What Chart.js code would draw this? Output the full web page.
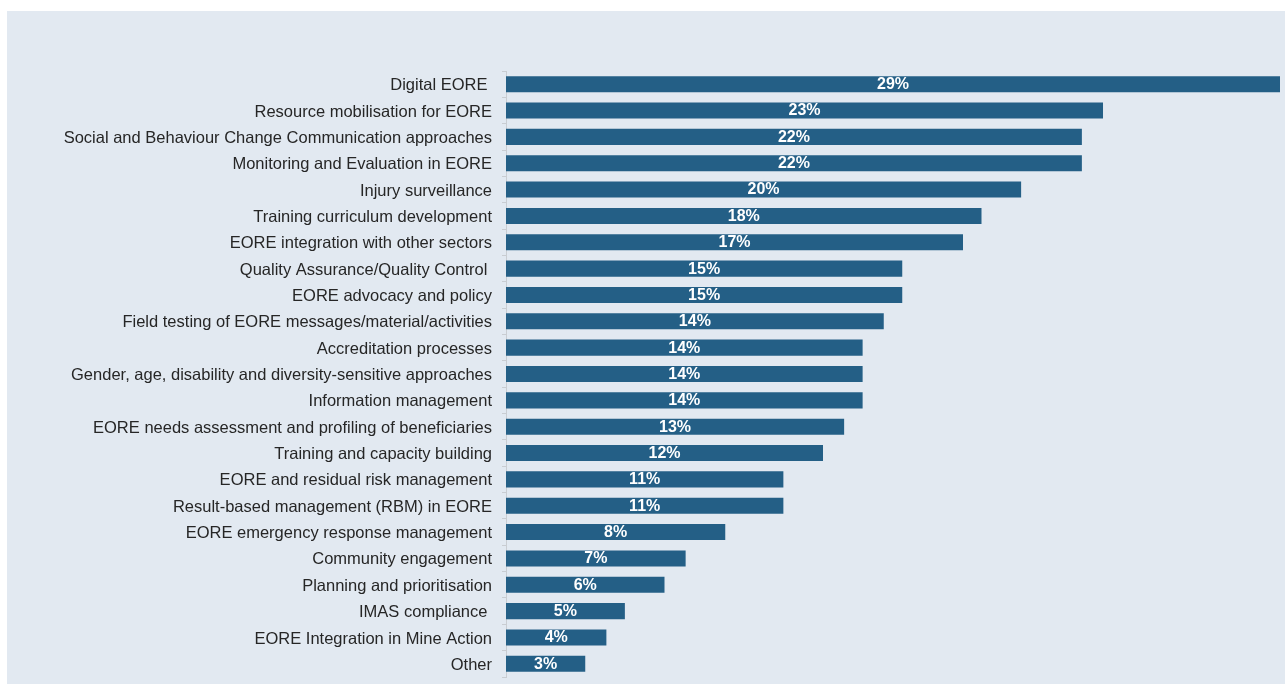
<!DOCTYPE html>
<html>
<head>
<meta charset="utf-8">
<script src="https://cdn.jsdelivr.net/npm/chart.js@4"></script>
<style>
  html, body { margin: 0; padding: 0; background: #ffffff; }
  #panel {
    position: absolute;
    left: 7px;
    top: 11px;
    width: 1278px;
    height: 673px;
    background: #E2E9F1;
  }
  #panel canvas { display: block; }
</style>
</head>
<body>
<div id="panel"><canvas id="chart-topics" width="1278" height="673"></canvas></div>
<script>
const TOPICS = [
  'Digital EORE ',
  'Resource mobilisation for EORE',
  'Social and Behaviour Change Communication approaches',
  'Monitoring and Evaluation in EORE',
  'Injury surveillance',
  'Training curriculum development',
  'EORE integration with other sectors',
  'Quality Assurance/Quality Control ',
  'EORE advocacy and policy',
  'Field testing of EORE messages/material/activities',
  'Accreditation processes',
  'Gender, age, disability and diversity-sensitive approaches',
  'Information management',
  'EORE needs assessment and profiling of beneficiaries',
  'Training and capacity building',
  'EORE and residual risk management',
  'Result-based management (RBM) in EORE',
  'EORE emergency response management',
  'Community engagement',
  'Planning and prioritisation',
  'IMAS compliance ',
  'EORE Integration in Mine Action',
  'Other',
];

// share of respondents, in percent
const SHARES = [
  29.3, 22.6, 21.8, 21.8, 19.5, 18.0, 17.3, 15.0, 15.0, 14.3, 13.5, 13.5,
  13.5, 12.8, 12.0, 10.5, 10.5, 8.3, 6.8, 6.0, 4.5, 3.8, 3.0,
];

const BAR_COLOR = '#245F86';
const AXIS_COLOR = '#C9CDD2';
const LABEL_COLOR = '#262626';
const FONT_FAMILY = '"Liberation Sans", Arial, sans-serif';

// white percentage centred inside every bar
const barValueLabels = {
  id: 'barValueLabels',
  afterDatasetsDraw(chart) {
    const { ctx } = chart;
    const meta = chart.getDatasetMeta(0);
    ctx.save();
    ctx.fillStyle = '#ffffff';
    ctx.font = `bold 16px ${FONT_FAMILY}`;
    ctx.textAlign = 'center';
    ctx.textBaseline = 'middle';
    meta.data.forEach((bar, i) => {
      const v = chart.data.datasets[0].data[i];
      ctx.fillText(`${Math.round(v)}%`, (bar.x + bar.base) / 2, bar.y + 0.5);
    });
    ctx.restore();
  },
};

new Chart(document.getElementById('chart-topics'), {
  type: 'bar',
  data: {
    labels: TOPICS,
    datasets: [{
      data: SHARES,
      backgroundColor: BAR_COLOR,
      borderWidth: 0,
      barPercentage: 0.61,
      categoryPercentage: 1,
    }],
  },
  options: {
    indexAxis: 'y',
    responsive: false,
    animation: false,
    layout: { padding: { top: 60, bottom: 7, right: 5, left: 0 } },
    plugins: {
      legend: { display: false },
      tooltip: { enabled: false },
    },
    scales: {
      x: {
        display: false,
        min: 0,
        max: Math.max(...SHARES),
      },
      y: {
        afterFit: (scale) => {
          scale.width = 499;
          // labels sit between ticks, so no extra room above/below
          scale.paddingTop = 0;
          scale.paddingBottom = 0;
        },
        grid: {
          drawOnChartArea: false,
          drawTicks: true,
          tickLength: 4,
          color: AXIS_COLOR,
        },
        border: { display: true, color: AXIS_COLOR, width: 1 },
        ticks: {
          color: LABEL_COLOR,
          padding: 10,
          labelOffset: 1.5,
          autoSkip: false,
          font: { family: FONT_FAMILY, size: 16.5 },
        },
      },
    },
  },
  plugins: [barValueLabels],
});
</script>
</body>
</html>
